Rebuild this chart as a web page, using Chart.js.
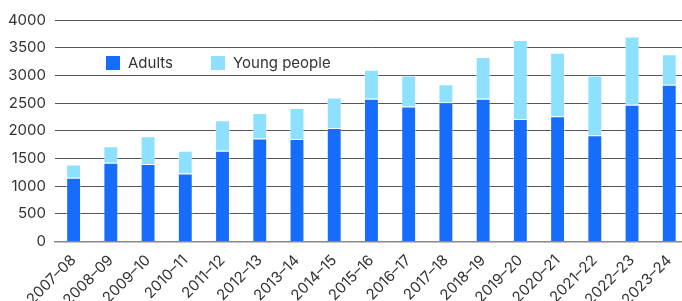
<!DOCTYPE html>
<html>
<head>
<meta charset="utf-8">
<script src="https://cdn.jsdelivr.net/npm/chart.js@4"></script>
<style>
  html, body { margin: 0; padding: 0; background: #fff; overflow: hidden; }
  #wrap { position: relative; width: 692px; height: 301px; }
  #legenda { position: absolute; left: 106px; top: 55px; font: 15px Inter, sans-serif; color: #333; }
  #legenda span.item { position: absolute; white-space: nowrap; line-height: 16px; }
  #legenda i { display: inline-block; width: 14px; height: 14px; vertical-align: -2px; margin-right: 8px; }
</style>
</head>
<body>
<div id="wrap">
  <canvas id="grafico" width="692" height="301"></canvas>
  <div id="legenda">
    <span class="item" style="left:0"><i style="background:#166dfb"></i>Adults</span>
    <span class="item" style="left:105px"><i style="background:#8ee0ff"></i>Young people</span>
  </div>
</div>
<script>
// categorias (anos) e valores por série
const anos = ["2007–08", "2008–09", "2009–10", "2010–11", "2011–12", "2012–13", "2013–14", "2014–15",
  "2015–16", "2016–17", "2017–18", "2018–19", "2019–20", "2020–21", "2021–22", "2022–23", "2023–24"];
const adultos = [1150, 1420, 1400, 1230, 1640, 1860, 1850, 2050, 2580, 2440, 2510, 2580, 2210, 2260, 1920, 2470, 2830];
const jovens = [240, 300, 500, 410, 550, 460, 560, 550, 520, 560, 330, 750, 1430, 1150, 1080, 1230, 550];
const ticksY = [0, 500, 1000, 1500, 2000, 2500, 3000, 3500, 4000];

const ctx = document.getElementById("grafico").getContext("2d");
new Chart(ctx, {
  type: "bar",
  data: {
    labels: anos,
    datasets: [
      { label: "Adults", data: adultos, backgroundColor: "#166dfb", borderColor: "rgba(255,255,255,0.45)", borderWidth: 1 },
      { label: "Young people", data: jovens, backgroundColor: "#8ee0ff", borderColor: "rgba(255,255,255,0.45)", borderWidth: 1 }
    ]
  },
  options: {
    responsive: false,
    animation: false,
    layout: { padding: { top: 20, left: 0, right: 0, bottom: 0 } },
    plugins: { legend: { display: false }, tooltip: { enabled: false } },
    datasets: { bar: { categoryPercentage: 1, barPercentage: 0.4 } },
    scales: {
      x: {
        stacked: true,
        grid: { display: false, drawTicks: false },
        border: { color: "#888", width: 1.5 },
        ticks: { color: "#333", font: { family: "Inter", size: 15 }, minRotation: 45, maxRotation: 45, padding: 10 },
        afterFit: s => { s.height = 59.5; }
      },
      y: {
        stacked: true,
        min: 0,
        max: 4000,
        afterBuildTicks: s => { s.ticks = ticksY.map(v => ({ value: v })); },
        grid: { color: "#555", lineWidth: 1, drawTicks: false },
        border: { display: false },
        ticks: { color: "#333", font: { family: "Inter", size: 15 }, padding: 9, callback: v => String(v) },
        afterFit: s => { s.width = 55; }
      }
    }
  }
});
</script>
</body>
</html>
